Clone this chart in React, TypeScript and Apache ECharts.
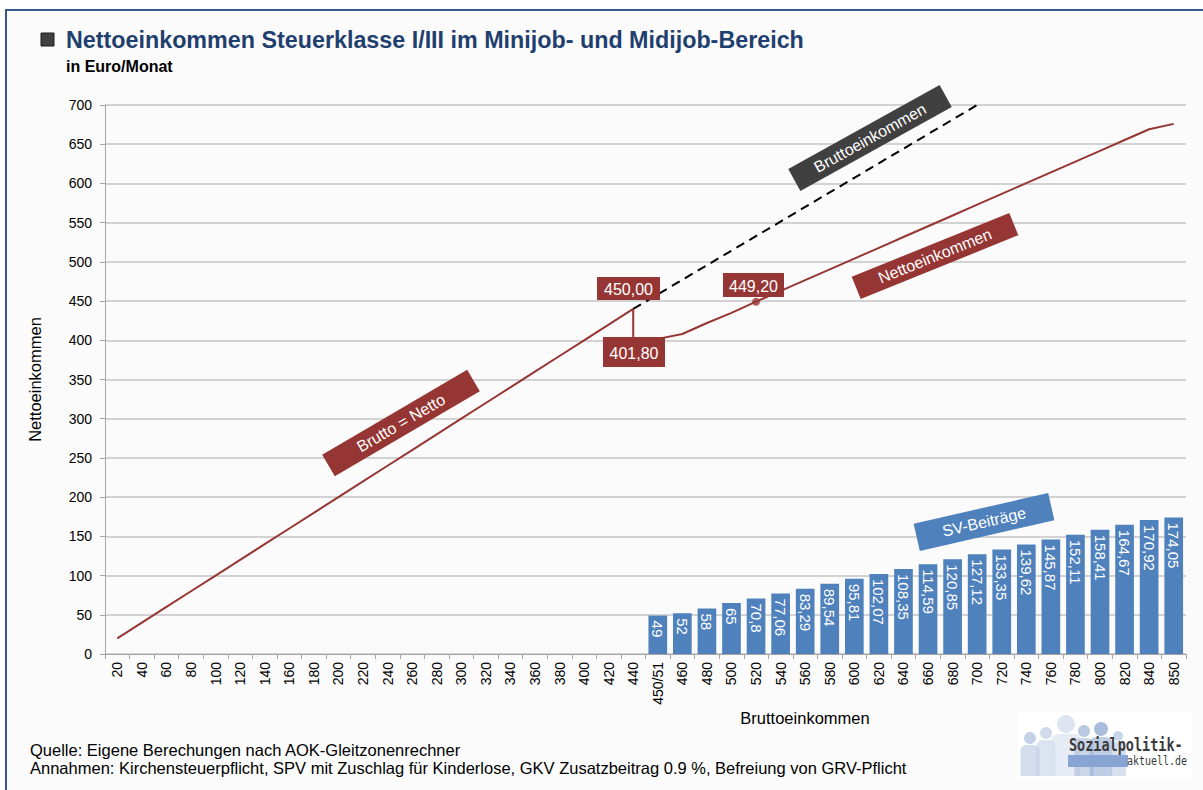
import React, { useEffect, useRef } from "react";
import * as echarts from "echarts";

const categories = [
  "20", "40", "60", "80", "100", "120", "140", "160", "180", "200", "220",
  "240", "260", "280", "300", "320", "340", "360", "380", "400", "420", "440",
  "450/51", "460", "480", "500", "520", "540", "560", "580", "600", "620",
  "640", "660", "680", "700", "720", "740", "760", "780", "800", "820", "840", "850",
];

// Netto = Brutto in the Minijob range (categories 20 .. 440)
const nettoMinijob = [
  20, 40, 60, 80, 100, 120, 140, 160, 180, 200, 220,
  240, 260, 280, 300, 320, 340, 360, 380, 400, 420, 440,
];
// Netto in the Midijob range (categories 450/51 .. 850)
const nettoMidijob = [
  401.8, 408, 422, 435, 449.2, 462.94, 476.71, 490.46, 504.19, 517.93, 531.65,
  545.41, 559.15, 572.88, 586.65, 600.38, 614.13, 627.89, 641.59, 655.33, 669.08, 675.95,
];
// Brutto reference line (dashed), from category 440 to category 700
const bruttoCats = ["440", "700"];
const bruttoLine = [440, 700];
// SV-Beiträge (categories 450/51 .. 850)
const svBeitraege = [
  49, 52, 58, 65, 70.8, 77.06, 83.29, 89.54, 95.81, 102.07, 108.35,
  114.59, 120.85, 127.12, 133.35, 139.62, 145.87, 152.11, 158.41, 164.67, 170.92, 174.05,
];
const yTicks = { min: 0, max: 700, interval: 50 };

const FONT = '"Liberation Sans", Arial, sans-serif';
const RED = "#963634";
const BLUE = "#4f81bd";

function rotBox(cx: number, cy: number, w: number, h: number, deg: number, fill: string, text: string, fontSize: number) {
  return {
    type: "group",
    x: cx,
    y: cy,
    rotation: (deg * Math.PI) / 180,
    z: 100,
    children: [
      { type: "rect", z: 100, shape: { x: -w / 2, y: -h / 2, width: w, height: h }, style: { fill } },
      {
        type: "text",
        z: 101,
        x: 0,
        y: 0,
        style: {
          text,
          fill: "#ffffff",
          font: `${fontSize}px ${FONT}`,
          align: "center",
          verticalAlign: "middle",
          textAlign: "center",
          textVerticalAlign: "middle",
        },
      },
    ],
  };
}

function valBox(x: number, y: number, w: number, h: number, text: string) {
  return {
    type: "group",
    z: 100,
    children: [
      { type: "rect", z: 100, shape: { x, y, width: w, height: h }, style: { fill: RED } },
      {
        type: "text",
        z: 101,
        x: x + w / 2,
        y: y + h / 2 + 1,
        style: {
          text,
          fill: "#ffffff",
          font: `16px ${FONT}`,
          align: "center",
          verticalAlign: "middle",
          textAlign: "center",
          textVerticalAlign: "middle",
        },
      },
    ],
  };
}

function txt(x: number, y: number, text: string, font: string, fill = "#000000", align = "left") {
  return {
    type: "text",
    z: 50,
    x,
    y,
    style: { text, font, fill, align, verticalAlign: "middle", textAlign: align, textVerticalAlign: "middle" },
  };
}

function logo() {
  const people: any[] = [];
  const figs = [
    [1030, 738, 6, "#b7c6e0"],
    [1046, 733, 6, "#c5d1e7"],
    [1066, 724, 9, "#d6dfee"],
    [1084, 731, 6, "#a9bbdb"],
    [1101, 729, 7, "#95acd3"],
    [1118, 736, 5, "#bccbe4"],
  ];
  figs.forEach(([x, y, r, c]: any) => {
    people.push({ type: "circle", z: 40, shape: { cx: x, cy: y, r }, style: { fill: c, opacity: 0.8 } });
    people.push({
      type: "rect",
      z: 40,
      shape: { x: x - r * 1.6, y: y + r + 1, width: r * 3.2, height: 776 - (y + r + 1), r: [6, 6, 0, 0] },
      style: { fill: c, opacity: 0.6 },
    });
  });
  return {
    type: "group",
    z: 40,
    children: [
      { type: "rect", z: 39, shape: { x: 1018, y: 712, width: 174, height: 66 }, style: { fill: "#ffffff" } },
      ...people,
      { type: "rect", z: 41, shape: { x: 1068, y: 755, width: 60, height: 12 }, style: { fill: "#88a4d4" } },
      {
        type: "text",
        z: 42,
        x: 1069,
        y: 745,
        scaleY: 1.35,
        style: { text: "Sozialpolitik-", font: `bold 13.5px "DejaVu Sans Mono", monospace`, fill: "#3a3a3a", verticalAlign: "middle", textVerticalAlign: "middle" },
      },
      {
        type: "text",
        z: 42,
        x: 1127,
        y: 761,
        scaleY: 1.3,
        style: { text: "aktuell.de", font: `10px "DejaVu Sans Mono", monospace`, fill: "#3a3a3a", verticalAlign: "middle", textVerticalAlign: "middle" },
      },
    ],
  };
}

export default function App() {
  const ref = useRef<HTMLDivElement>(null);
  useEffect(() => {
    if (!ref.current) return;
    const chart = echarts.init(ref.current, undefined, { renderer: "svg" });

    const nettoData: any[] = [
      ...nettoMinijob.map((v, i) => [i, v]),
      [nettoMinijob.length - 1, nettoMidijob[0]],
      ...nettoMidijob.map((v, i) => [nettoMinijob.length + i, v]),
    ];
    const bruttoData = bruttoLine.map((v, i) => [categories.indexOf(bruttoCats[i]), v]);
    const svData = svBeitraege.map((v, i) => [nettoMinijob.length + i, v]);
    const markIdx = categories.indexOf("520");

    chart.setOption({
      animation: false,
      backgroundColor: "#ffffff",
      textStyle: { fontFamily: FONT },
      grid: { left: 105, right: 17, top: 105, bottom: 136, containLabel: false },
      xAxis: {
        type: "category",
        data: categories,
        boundaryGap: true,
        axisLine: { show: true, lineStyle: { color: "#a6a6a6", width: 1 } },
        axisTick: { show: true, length: 5, lineStyle: { color: "#a6a6a6" }, alignWithLabel: false },
        axisLabel: { interval: 0, rotate: 90, fontSize: 14, color: "#000", fontFamily: FONT, margin: 8 },
        splitLine: { show: false },
      },
      yAxis: {
        type: "value",
        min: yTicks.min,
        max: yTicks.max,
        interval: yTicks.interval,
        name: "Nettoeinkommen",
        nameLocation: "middle",
        nameGap: 62,
        nameRotate: 90,
        nameTextStyle: { fontSize: 16.5, color: "#000", fontFamily: FONT },
        axisLine: { show: true, lineStyle: { color: "#a6a6a6", width: 1 } },
        axisTick: { show: true, length: 5, lineStyle: { color: "#a6a6a6" } },
        axisLabel: { fontSize: 14, color: "#000", fontFamily: FONT, margin: 13 },
        splitLine: { show: true, lineStyle: { color: "#c4c4c4", width: 1.5 } },
      },
      series: [
        {
          name: "SV-Beiträge",
          type: "bar",
          data: svData,
          barWidth: "76%",
          itemStyle: { color: BLUE },
          label: {
            show: true,
            position: "insideTop",
            rotate: -90,
            align: "left",
            verticalAlign: "middle",
            distance: 5,
            color: "#ffffff",
            fontSize: 15,
            fontFamily: FONT,
            formatter: (p: any) => String(p.value[1]).replace(".", ","),
          },
          z: 2,
        },
        {
          name: "Bruttoeinkommen",
          type: "line",
          data: bruttoData,
          symbol: "none",
          lineStyle: { color: "#000000", width: 2, type: [9, 6] },
          z: 3,
        },
        {
          name: "Nettoeinkommen",
          type: "line",
          data: nettoData,
          symbol: "none",
          lineStyle: { color: RED, width: 2 },
          z: 4,
        },
        {
          name: "Marker",
          type: "scatter",
          data: [[markIdx, nettoMidijob[markIdx - nettoMinijob.length]]],
          symbol: "circle",
          symbolSize: 8,
          itemStyle: { color: RED },
          z: 5,
        },
      ],
      graphic: [
        { type: "rect", z: -10, silent: true, shape: { x: 6, y: 10, width: 1210, height: 800 }, style: { fill: "#fbfbfb", stroke: "#375a8c", lineWidth: 2 } },
        { type: "rect", z: 50, shape: { x: 41, y: 33, width: 13, height: 13 }, style: { fill: "#404040", stroke: "#1a1a1a", lineWidth: 1 } },
        txt(66, 40, "Nettoeinkommen Steuerklasse I/III im Minijob- und Midijob-Bereich", `bold 23.3px ${FONT}`, "#1f3f6e"),
        txt(66, 66, "in Euro/Monat", `bold 16px ${FONT}`, "#000000"),
        txt(805, 718, "Bruttoeinkommen", `16.5px ${FONT}`, "#000000", "center"),
        txt(30, 750, "Quelle: Eigene Berechungen nach AOK-Gleitzonenrechner", `16.5px ${FONT}`),
        txt(30, 768, "Annahmen: Kirchensteuerpflicht, SPV mit Zuschlag für Kinderlose, GKV Zusatzbeitrag 0.9 %, Befreiung von GRV-Pflicht", `16.5px ${FONT}`),
        rotBox(401, 423, 168, 25, 30.4, RED, "Brutto = Netto", 16),
        rotBox(870, 138, 173, 25, 29, "#404040", "Bruttoeinkommen", 16),
        rotBox(935, 256, 170, 24, 22, RED, "Nettoeinkommen", 16),
        rotBox(984, 522, 138, 28, 12.8, BLUE, "SV-Beiträge", 16),
        valBox(597, 277, 63, 23, "450,00"),
        valBox(723, 273, 61, 24, "449,20"),
        valBox(603, 337, 62, 30, "401,80"),
        logo(),
      ],
    });
    return () => chart.dispose();
  }, []);
  return <div ref={ref} style={{ position: "fixed", left: 0, top: 0, width: 1203, height: 790 }} />;
}
